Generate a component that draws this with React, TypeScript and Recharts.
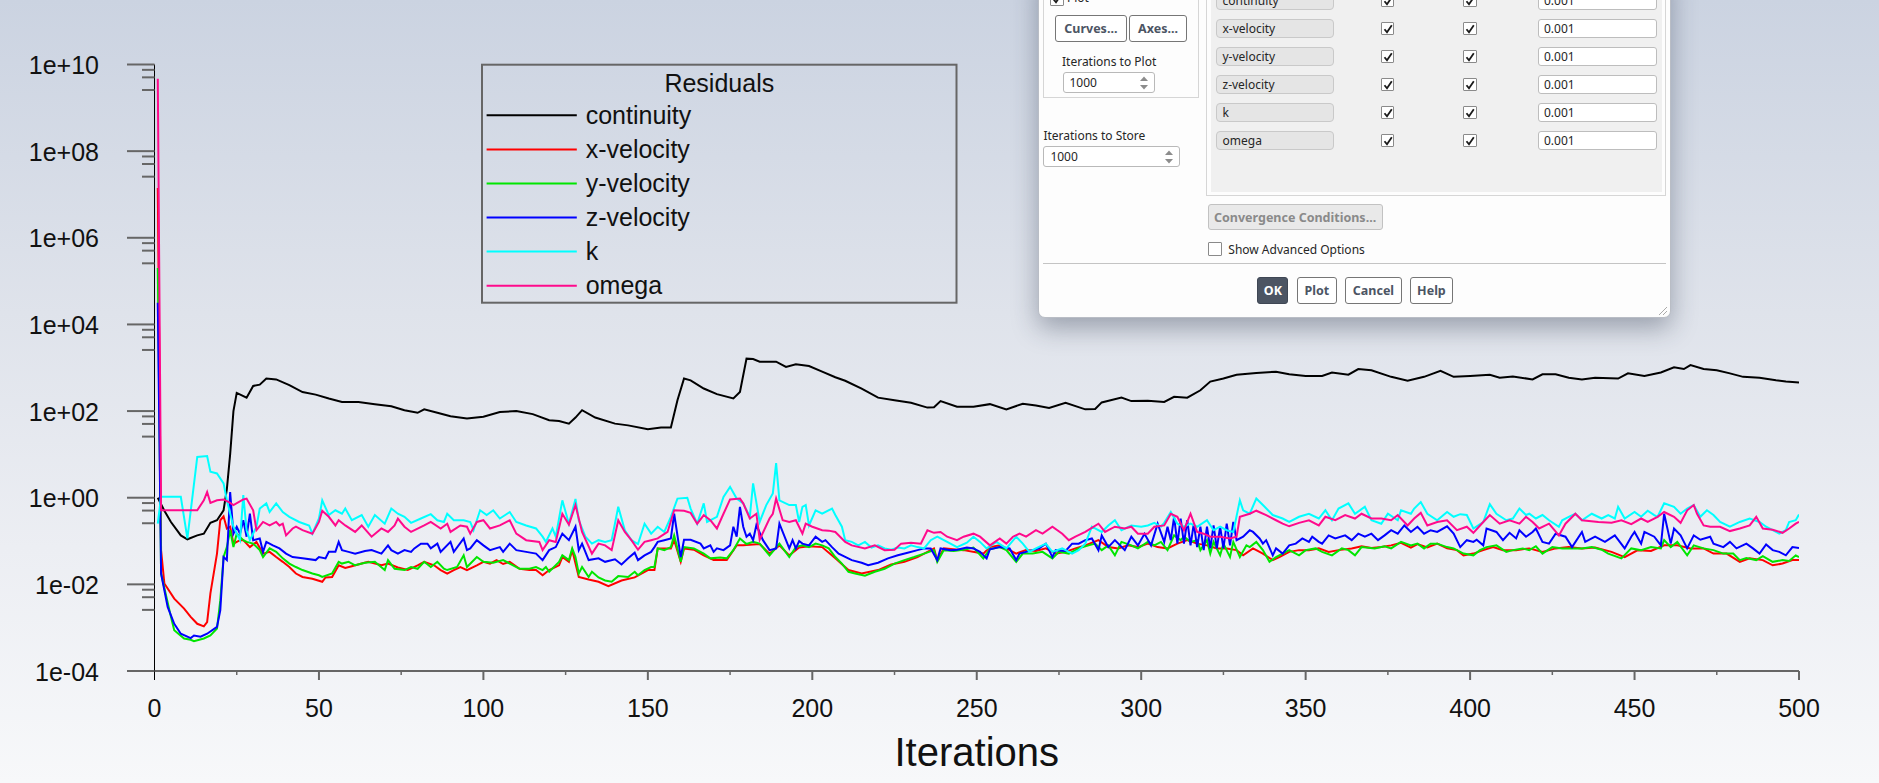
import React from "react";
import { LineChart, Line, XAxis, YAxis } from "recharts";

const WIDTH = 1879;
const HEIGHT = 783;
const FONT = "'Liberation Sans', Arial, sans-serif";
const UI_FONT = "'Noto Sans', 'Open Sans', sans-serif";

// residual history, [iteration, log10(residual)]
const continuity: [number, number][] = [
  [1,0],[3,-0.3],[5,-0.56],[8,-0.87],[10,-0.96],[13,-0.87],[15,-0.83],[17,-0.58],[19,-0.52],[21,-0.29],[22,0.2],[23,1.0],[24,2.0],[25,2.42],[28,2.31],[30,2.58],[32,2.61],[34,2.75],[37,2.73],[41,2.6],[45,2.44],[49,2.38],[53,2.29],[57,2.21],[62,2.21],[67,2.16],[72,2.11],[76,2.02],[80,1.96],[82,2.04],[86,1.96],[90,1.88],[95,1.83],[100,1.87],[105,1.98],[110,2.0],[115,1.93],[120,1.79],[123,1.77],[126,1.71],[128,1.85],[130,2.02],[134,1.85],[140,1.71],[144,1.67],[150,1.58],[154,1.62],[157,1.62],[159,2.25],[161,2.75],[163,2.71],[167,2.52],[171,2.39],[176,2.29],[178,2.44],[180,3.21],[182,3.2],[184,3.14],[189,3.14],[192,3.02],[195,3.08],[199,3.04],[203,2.91],[207,2.78],[210,2.7],[215,2.52],[220,2.31],[225,2.25],[230,2.19],[235,2.08],[237,2.09],[239,2.23],[244,2.1],[249,2.1],[254,2.16],[259,2.04],[264,2.17],[268,2.13],[272,2.07],[277,2.19],[283,2.04],[286,2.05],[288,2.2],[294,2.31],[297,2.23],[302,2.24],[307,2.21],[310,2.33],[314,2.31],[318,2.48],[321,2.68],[325,2.75],[329,2.84],[335,2.88],[341,2.91],[345,2.85],[350,2.81],[355,2.81],[358,2.89],[363,2.84],[366,2.97],[370,2.94],[376,2.79],[381,2.7],[386,2.79],[391,2.93],[395,2.79],[400,2.81],[406,2.84],[409,2.77],[413,2.8],[419,2.73],[422,2.85],[426,2.85],[430,2.77],[434,2.73],[438,2.77],[445,2.75],[448,2.87],[453,2.81],[458,2.89],[462,3.01],[465,2.97],[467,3.06],[471,2.97],[475,2.94],[479,2.87],[483,2.79],[488,2.77],[493,2.71],[496,2.68],[500,2.66],
];

const xVelocity: [number, number][] = [
  [1,7.15],[2,-1.21],[3,-1.98],[6,-2.33],[9,-2.56],[11,-2.75],[13,-2.91],[15,-2.97],[16,-2.87],[17,-2.21],[19,-1.29],[20,-0.52],[21,-0.43],[22,-0.71],[23,-0.67],[24,-1.06],[26,-0.98],[27,-0.98],[29,-1.14],[31,-1.02],[33,-1.29],[35,-1.25],[37,-1.37],[39,-1.48],[41,-1.6],[43,-1.75],[45,-1.83],[48,-1.87],[51,-1.94],[52,-1.84],[54,-1.83],[56,-1.56],[58,-1.62],[60,-1.58],[63,-1.52],[65,-1.48],[69,-1.56],[71,-1.52],[74,-1.61],[77,-1.67],[80,-1.56],[82,-1.48],[85,-1.56],[87,-1.67],[89,-1.75],[91,-1.67],[93,-1.6],[95,-1.67],[98,-1.56],[100,-1.48],[102,-1.52],[104,-1.44],[106,-1.53],[108,-1.48],[111,-1.64],[114,-1.67],[116,-1.67],[118,-1.79],[120,-1.67],[123,-1.56],[124,-1.37],[126,-1.48],[127,-1.21],[129,-1.83],[132,-1.89],[135,-1.94],[138,-2.04],[142,-1.91],[146,-1.84],[150,-1.67],[152,-1.67],[153,-1.17],[157,-1.17],[158,-0.98],[160,-1.48],[161,-1.17],[164,-1.2],[167,-1.33],[170,-1.44],[174,-1.44],[177,-1.1],[179,-1.1],[184,-1.07],[187,-1.29],[190,-1.1],[193,-1.33],[196,-1.15],[199,-1.12],[203,-1.14],[207,-1.4],[211,-1.67],[215,-1.75],[220,-1.67],[224,-1.54],[228,-1.48],[232,-1.37],[237,-1.17],[238,-1.45],[240,-1.17],[246,-1.21],[252,-1.29],[254,-1.14],[257,-1.1],[260,-1.21],[262,-1.29],[265,-1.21],[268,-1.23],[271,-1.17],[274,-1.29],[277,-1.25],[280,-1.17],[283,-1.1],[287,-0.98],[290,-1.14],[293,-1.17],[296,-1.1],[299,-1.14],[302,-1.06],[305,-1.14],[308,-1.17],[311,-1.06],[314,-0.98],[317,-1.06],[320,-1.1],[323,-1.17],[326,-1.17],[329,-1.21],[331,-1.33],[334,-1.17],[337,-1.29],[340,-1.44],[342,-1.37],[345,-1.25],[348,-1.21],[351,-1.21],[354,-1.17],[357,-1.25],[360,-1.21],[364,-1.17],[367,-1.12],[370,-1.16],[373,-1.14],[376,-1.1],[379,-1.04],[382,-1.15],[384,-1.07],[387,-1.15],[390,-1.06],[393,-1.17],[396,-1.21],[398,-1.33],[401,-1.29],[404,-1.21],[407,-1.14],[410,-1.21],[414,-1.21],[418,-1.17],[422,-1.25],[426,-1.17],[430,-1.14],[434,-1.17],[438,-1.15],[443,-1.25],[447,-1.37],[451,-1.21],[455,-1.23],[459,-1.1],[463,-1.1],[467,-1.17],[471,-1.17],[474,-1.29],[478,-1.29],[482,-1.48],[485,-1.4],[489,-1.44],[492,-1.56],[495,-1.52],[498,-1.44],[500,-1.44],
];

const yVelocity: [number, number][] = [
  [1,5.3],[2,-1.75],[5,-2.75],[6,-3.06],[9,-3.25],[11,-3.28],[12,-3.31],[15,-3.25],[17,-3.18],[19,-3.02],[20,-2.37],[21,-1.37],[22,-1.14],[23,-0.75],[24,-1.14],[25,-0.83],[27,-0.98],[28,-1.02],[30,-1.06],[32,-1.21],[33,-1.37],[35,-1.17],[37,-1.25],[39,-1.4],[41,-1.52],[43,-1.6],[45,-1.67],[48,-1.75],[50,-1.79],[51,-1.83],[54,-1.75],[56,-1.48],[57,-1.52],[59,-1.48],[61,-1.56],[64,-1.5],[67,-1.48],[70,-1.67],[71,-1.44],[73,-1.64],[76,-1.67],[78,-1.6],[80,-1.64],[82,-1.48],[84,-1.6],[86,-1.48],[88,-1.64],[89,-1.67],[92,-1.6],[94,-1.33],[95,-1.6],[98,-1.37],[100,-1.48],[103,-1.5],[106,-1.44],[108,-1.52],[111,-1.64],[114,-1.64],[116,-1.6],[118,-1.67],[119,-1.6],[120,-1.71],[123,-1.48],[124,-1.33],[126,-1.44],[127,-1.17],[128,-1.37],[129,-1.75],[130,-1.6],[132,-1.83],[133,-1.71],[135,-1.84],[137,-1.91],[139,-1.94],[141,-1.81],[144,-1.83],[146,-1.71],[147,-1.79],[149,-1.67],[151,-1.6],[152,-1.6],[153,-1.17],[155,-1.21],[157,-1.14],[158,-0.87],[160,-1.48],[161,-1.14],[164,-1.17],[167,-1.29],[169,-1.4],[172,-1.38],[174,-1.4],[176,-1.21],[178,-0.94],[180,-1.07],[182,-1.02],[184,-1.06],[187,-1.33],[190,-1.06],[193,-1.37],[195,-1.14],[197,-1.1],[199,-1.14],[201,-1.06],[203,-1.1],[205,-1.17],[207,-1.37],[209,-1.52],[211,-1.71],[213,-1.75],[216,-1.8],[219,-1.71],[222,-1.64],[225,-1.52],[228,-1.44],[231,-1.37],[234,-1.29],[237,-1.21],[238,-1.48],[240,-1.21],[243,-1.23],[246,-1.2],[249,-1.15],[252,-1.4],[254,-1.19],[257,-1.14],[259,-1.21],[262,-1.48],[264,-1.29],[267,-1.29],[270,-1.25],[273,-1.4],[275,-1.25],[278,-1.29],[281,-1.17],[284,-1.1],[286,-1.06],[288,-1.21],[290,-1.1],[292,-1.33],[294,-1.02],[297,-1.1],[299,-1.17],[302,-1.02],[304,-1.1],[306,-1.02],[308,-1.21],[310,-0.87],[312,-0.98],[313,-0.9],[315,-1.02],[317,-0.98],[318,-1.21],[320,-0.98],[321,-1.29],[322,-1.02],[324,-1.33],[325,-1.06],[327,-1.37],[328,-1.02],[330,-1.37],[332,-1.1],[333,-1.14],[335,-1.02],[337,-1.21],[339,-1.48],[341,-1.37],[343,-1.29],[345,-1.21],[348,-1.33],[350,-1.21],[353,-1.17],[355,-1.25],[358,-1.33],[361,-1.17],[363,-1.21],[365,-1.33],[367,-1.14],[371,-1.17],[374,-1.12],[376,-1.17],[379,-1.02],[382,-1.1],[384,-1.06],[386,-1.17],[388,-1.06],[390,-1.06],[393,-1.14],[395,-1.17],[398,-1.29],[401,-1.33],[403,-1.21],[405,-1.14],[408,-1.1],[411,-1.25],[413,-1.21],[416,-1.17],[418,-1.21],[420,-1.12],[422,-1.29],[425,-1.14],[428,-1.17],[431,-1.17],[434,-1.17],[437,-1.14],[440,-1.2],[442,-1.29],[446,-1.4],[449,-1.17],[452,-1.21],[455,-1.14],[458,-1.17],[459,-0.98],[461,-1.14],[463,-1.02],[466,-1.33],[468,-1.1],[471,-1.17],[474,-1.21],[477,-1.29],[480,-1.29],[482,-1.44],[484,-1.39],[487,-1.44],[489,-1.35],[492,-1.48],[495,-1.44],[497,-1.46],[499,-1.33],[500,-1.37],
];

const zVelocity: [number, number][] = [
  [1,4.5],[2,-1.75],[4,-2.52],[6,-2.91],[8,-3.14],[11,-3.24],[12,-3.18],[14,-3.21],[16,-3.14],[19,-2.98],[20,-2.6],[21,-1.37],[22,-1.44],[23,0.13],[24,-0.83],[25,-0.67],[26,-0.83],[27,-0.52],[28,-0.9],[29,-0.37],[30,-0.98],[32,-0.94],[33,-1.25],[34,-1.02],[36,-1.1],[38,-1.17],[40,-1.29],[42,-1.37],[45,-1.4],[49,-1.44],[50,-1.37],[52,-1.4],[53,-1.25],[55,-1.25],[56,-1.02],[57,-1.21],[59,-1.25],[61,-1.29],[64,-1.23],[66,-1.21],[69,-1.29],[71,-1.1],[72,-1.21],[74,-1.29],[76,-1.21],[78,-1.25],[79,-1.17],[81,-1.06],[83,-1.06],[84,-1.17],[86,-1.06],[87,-1.25],[90,-1.02],[91,-1.25],[94,-0.94],[95,-1.21],[96,-1.17],[98,-0.98],[100,-1.1],[102,-1.21],[105,-1.14],[106,-1.25],[108,-1.06],[110,-1.21],[113,-1.25],[116,-1.29],[118,-1.44],[120,-1.21],[122,-1.14],[124,-0.83],[126,-0.98],[128,-0.67],[129,-1.21],[130,-1.06],[132,-1.44],[135,-1.4],[137,-1.48],[140,-1.42],[142,-1.54],[144,-1.4],[146,-1.27],[147,-1.44],[149,-1.33],[151,-1.25],[152,-1.14],[153,-1.02],[155,-0.98],[157,-0.94],[158,-0.37],[160,-1.37],[161,-0.97],[163,-0.97],[166,-1.06],[167,-1.17],[169,-1.1],[170,-1.25],[171,-1.17],[173,-1.21],[175,-1.1],[176,-0.67],[177,-0.9],[178,-0.21],[179,-0.67],[180,-0.9],[181,-0.83],[182,-0.98],[183,-0.63],[185,-0.98],[187,-1.21],[189,-1.17],[190,-0.6],[192,-0.98],[193,-1.17],[194,-0.98],[195,-1.17],[196,-1.0],[197,-1.06],[199,-1.1],[201,-0.9],[203,-1.02],[204,-0.98],[206,-1.14],[208,-1.29],[212,-1.44],[215,-1.5],[217,-1.56],[220,-1.5],[223,-1.4],[226,-1.33],[229,-1.27],[232,-1.21],[234,-1.17],[236,-1.17],[238,-1.44],[239,-1.17],[242,-1.21],[244,-1.2],[247,-1.15],[249,-1.17],[251,-1.25],[253,-1.4],[254,-1.19],[257,-1.14],[260,-1.17],[262,-1.44],[263,-1.29],[265,-1.25],[267,-1.21],[269,-1.17],[271,-1.06],[273,-1.37],[274,-1.21],[277,-1.23],[279,-1.06],[281,-1.06],[283,-0.98],[285,-0.94],[287,-1.21],[288,-0.87],[290,-1.14],[292,-0.98],[295,-1.21],[297,-0.9],[299,-1.1],[301,-0.83],[303,-1.1],[305,-0.6],[307,-1.02],[308,-0.67],[309,-0.98],[310,-0.44],[311,-1.06],[312,-0.48],[313,-1.06],[314,-0.52],[315,-1.1],[316,-0.6],[317,-1.14],[318,-0.67],[319,-1.21],[320,-0.67],[321,-1.17],[322,-0.64],[323,-1.17],[324,-0.67],[325,-1.17],[326,-0.6],[327,-1.1],[328,-0.56],[329,-0.98],[331,-0.9],[333,-0.75],[334,-0.79],[336,-0.94],[337,-1.06],[338,-0.98],[340,-1.33],[341,-1.17],[343,-1.29],[345,-1.1],[347,-1.06],[349,-0.94],[351,-1.02],[352,-0.9],[354,-1.02],[355,-1.06],[357,-0.87],[359,-0.94],[362,-0.87],[364,-0.98],[366,-0.83],[368,-0.9],[370,-0.83],[372,-0.98],[374,-0.87],[376,-0.75],[378,-0.83],[380,-0.64],[382,-0.79],[384,-0.67],[386,-0.83],[388,-0.75],[390,-0.79],[393,-0.66],[395,-0.83],[397,-1.14],[399,-0.98],[401,-1.02],[402,-0.97],[404,-1.1],[405,-0.71],[408,-0.79],[410,-0.98],[412,-0.81],[414,-0.94],[415,-0.75],[417,-0.9],[419,-0.79],[420,-0.71],[422,-1.02],[424,-1.06],[426,-0.83],[429,-0.9],[431,-1.14],[434,-0.79],[435,-1.02],[438,-0.9],[441,-1.02],[444,-0.87],[447,-1.17],[449,-0.9],[450,-0.79],[452,-1.06],[453,-0.79],[456,-0.9],[458,-1.1],[459,-0.37],[461,-1.06],[462,-0.71],[464,-0.87],[466,-1.17],[468,-0.87],[470,-0.97],[473,-0.9],[474,-1.06],[477,-1.14],[479,-1.02],[481,-1.17],[484,-1.06],[486,-1.17],[488,-1.29],[490,-1.08],[492,-1.21],[494,-1.25],[496,-1.33],[498,-1.14],[500,-1.16],
];

const kResidual: [number, number][] = [
  [1,-0.6],[2,0.02],[8,0.02],[10,-0.94],[13,0.94],[16,0.96],[17,0.6],[19,0.56],[21,0.33],[22,-0.06],[24,-0.67],[26,-0.98],[27,0.06],[28,-0.75],[29,-0.98],[31,-0.67],[32,-0.25],[34,-0.13],[35,-0.33],[37,-0.13],[39,-0.33],[41,-0.44],[44,-0.56],[47,-0.64],[48,-0.83],[50,-0.48],[51,-0.06],[53,-0.4],[55,-0.29],[57,-0.37],[58,-0.25],[60,-0.52],[63,-0.4],[65,-0.67],[67,-0.4],[70,-0.6],[72,-0.25],[74,-0.37],[76,-0.44],[78,-0.58],[81,-0.48],[84,-0.38],[86,-0.52],[88,-0.56],[89,-0.37],[91,-0.52],[94,-0.52],[96,-0.56],[97,-0.75],[99,-0.29],[101,-0.4],[103,-0.29],[105,-0.48],[108,-0.33],[110,-0.56],[113,-0.64],[116,-0.71],[118,-0.9],[119,-1.02],[121,-0.71],[122,-0.9],[124,-0.06],[126,-0.6],[128,-0.03],[129,-0.52],[131,-0.9],[133,-1.06],[135,-0.98],[137,-1.02],[139,-0.98],[141,-0.21],[143,-0.75],[145,-0.98],[147,-1.07],[149,-0.6],[151,-0.83],[153,-0.67],[155,-0.79],[157,-0.44],[159,-0.02],[162,0.0],[163,-0.25],[165,-0.6],[167,-0.13],[168,-0.56],[171,-0.44],[173,0.02],[175,0.25],[177,-0.02],[179,-0.13],[181,-0.44],[182,0.33],[184,-0.56],[186,-0.17],[188,0.1],[189,0.8],[190,-0.06],[193,-0.17],[195,-0.17],[196,-0.56],[197,-0.21],[198,-0.17],[199,-0.64],[201,-0.29],[203,-0.37],[206,-0.25],[207,-0.4],[209,-0.67],[210,-0.98],[212,-1.02],[214,-1.1],[216,-1.02],[218,-1.15],[220,-1.1],[222,-1.17],[224,-1.2],[226,-1.15],[228,-1.17],[230,-1.1],[232,-1.14],[234,-1.17],[236,-0.98],[238,-0.9],[240,-0.98],[242,-1.06],[244,-1.14],[247,-1.04],[249,-0.9],[251,-1.02],[253,-1.17],[256,-1.02],[259,-1.17],[262,-0.9],[264,-1.06],[266,-1.25],[268,-1.17],[271,-1.06],[273,-1.25],[276,-1.17],[279,-1.29],[281,-1.21],[283,-1.06],[285,-0.67],[288,-0.79],[290,-0.64],[292,-0.52],[294,-0.75],[297,-0.64],[300,-0.67],[302,-0.64],[304,-0.58],[306,-0.67],[307,-0.58],[309,-0.33],[311,-0.6],[313,-0.67],[315,-0.6],[317,-0.67],[320,-0.52],[322,-0.75],[324,-0.67],[326,-0.75],[328,-0.79],[330,-0.06],[331,-0.29],[333,-0.37],[335,-0.02],[337,-0.17],[340,-0.4],[343,-0.48],[345,-0.56],[348,-0.44],[351,-0.37],[354,-0.48],[356,-0.29],[358,-0.52],[360,-0.25],[363,-0.13],[365,-0.37],[368,-0.21],[370,-0.52],[373,-0.6],[375,-0.37],[378,-0.52],[379,-0.29],[382,-0.37],[383,-0.25],[385,-0.1],[387,-0.37],[390,-0.52],[393,-0.33],[395,-0.44],[397,-0.38],[399,-0.4],[401,-0.71],[404,-0.56],[406,-0.15],[408,-0.37],[411,-0.52],[413,-0.48],[415,-0.25],[417,-0.4],[418,-0.37],[420,-0.48],[422,-0.4],[424,-0.52],[427,-0.67],[428,-0.52],[430,-0.44],[432,-0.37],[434,-0.52],[437,-0.37],[440,-0.48],[442,-0.4],[444,-0.48],[445,-0.21],[447,-0.48],[450,-0.33],[452,-0.44],[454,-0.3],[456,-0.4],[457,-0.44],[459,-0.13],[462,-0.21],[464,-0.37],[466,-0.25],[468,-0.17],[470,-0.44],[472,-0.29],[474,-0.4],[476,-0.56],[479,-0.67],[482,-0.56],[485,-0.48],[488,-0.56],[490,-0.67],[492,-0.75],[494,-0.83],[496,-0.75],[497,-0.56],[499,-0.52],[500,-0.39],
];

const omega: [number, number][] = [
  [1,9.67],[2,-0.29],[13,-0.29],[15,-0.06],[16,0.13],[17,-0.12],[19,-0.06],[21,-0.04],[23,-0.12],[24,-0.17],[27,-0.04],[28,-0.02],[30,-0.29],[31,-0.75],[33,-0.56],[35,-0.64],[37,-0.56],[38,-0.64],[39,-0.6],[40,-0.87],[42,-0.71],[43,-0.67],[45,-0.75],[48,-0.83],[50,-0.56],[51,-0.3],[53,-0.44],[55,-0.64],[56,-0.52],[58,-0.64],[61,-0.79],[63,-0.64],[66,-0.9],[69,-0.71],[71,-0.79],[73,-0.64],[74,-0.48],[76,-0.67],[78,-0.79],[82,-0.64],[84,-0.56],[87,-0.71],[89,-0.6],[90,-0.79],[93,-0.64],[95,-0.67],[96,-0.83],[98,-0.56],[100,-0.52],[102,-0.71],[105,-0.64],[108,-0.52],[110,-0.83],[113,-0.98],[117,-1.02],[118,-1.21],[120,-0.98],[122,-1.02],[124,-0.37],[126,-0.62],[128,-0.17],[130,-0.79],[133,-1.29],[135,-1.06],[137,-1.1],[139,-1.21],[141,-0.52],[143,-0.79],[145,-0.98],[147,-1.2],[149,-1.02],[151,-0.98],[153,-0.94],[156,-0.79],[158,-0.29],[161,-0.3],[163,-0.35],[165,-0.6],[167,-0.4],[169,-0.52],[171,-0.71],[173,-0.37],[175,-0.04],[178,-0.02],[179,-0.13],[181,-0.48],[183,-0.37],[184,-0.97],[187,-0.48],[188,-0.37],[189,-0.02],[191,-0.52],[193,-0.56],[195,-0.52],[197,-0.83],[198,-0.6],[200,-0.67],[203,-0.75],[205,-0.76],[207,-0.79],[210,-1.02],[212,-1.1],[216,-1.17],[219,-1.1],[222,-1.21],[225,-1.2],[227,-1.06],[230,-1.04],[233,-1.06],[235,-0.75],[237,-0.81],[239,-0.79],[241,-0.9],[244,-0.98],[246,-0.9],[249,-0.83],[251,-0.9],[254,-1.1],[257,-0.94],[259,-1.06],[261,-0.9],[263,-0.83],[265,-0.9],[268,-0.75],[270,-0.83],[273,-0.67],[276,-0.83],[278,-0.98],[280,-0.9],[283,-0.79],[287,-0.6],[289,-0.79],[292,-0.67],[295,-0.71],[297,-0.67],[299,-0.83],[302,-0.83],[304,-0.67],[307,-0.64],[309,-0.37],[311,-0.44],[313,-0.75],[315,-0.37],[317,-0.79],[319,-0.83],[321,-0.9],[324,-0.9],[327,-0.94],[329,-0.9],[330,-0.44],[333,-0.37],[335,-0.3],[338,-0.4],[341,-0.52],[343,-0.6],[345,-0.66],[348,-0.58],[351,-0.52],[354,-0.64],[356,-0.44],[359,-0.52],[362,-0.4],[365,-0.48],[367,-0.37],[370,-0.48],[373,-0.48],[376,-0.52],[378,-0.4],[381,-0.64],[383,-0.48],[385,-0.35],[387,-0.64],[390,-0.56],[393,-0.52],[396,-0.75],[399,-0.67],[401,-0.81],[404,-0.56],[406,-0.4],[409,-0.6],[412,-0.52],[415,-0.6],[417,-0.44],[419,-0.56],[421,-0.71],[424,-0.6],[427,-0.87],[429,-0.6],[432,-0.37],[434,-0.52],[439,-0.56],[443,-0.58],[446,-0.52],[449,-0.61],[452,-0.48],[454,-0.56],[457,-0.44],[459,-0.33],[462,-0.44],[464,-0.58],[466,-0.29],[468,-0.17],[469,-0.37],[471,-0.64],[473,-0.67],[476,-0.67],[479,-0.77],[482,-0.71],[485,-0.64],[487,-0.44],[489,-0.71],[492,-0.74],[495,-0.81],[497,-0.71],[499,-0.6],[500,-0.56],
];

const seriesNames = ["continuity", "x-velocity", "y-velocity", "z-velocity", "k", "omega"];
const seriesKeys = ["cont", "xv", "yv", "zv", "k", "om"];
const seriesColors = ["#000000", "#ff0000", "#00e600", "#0000ff", "#00ffff", "#ff0a8c"];
const allSeries = [continuity, xVelocity, yVelocity, zVelocity, kResidual, omega];

const xTicks = [0, 25, 50, 75, 100, 125, 150, 175, 200, 225, 250, 275, 300, 325, 350, 375, 400, 425, 450, 475, 500];
const yMajorTicks = [-4, -2, 0, 2, 4, 6, 8, 10];
const yTickLabels = ["1e-04", "1e-02", "1e+00", "1e+02", "1e+04", "1e+06", "1e+08", "1e+10"];
// fluent puts 3 linear minor ticks between the 2-decade majors
const yMinorOffsets = [1.4108, 1.7033, 1.8765];

const yTicks = [
  ...yMajorTicks,
  ...yMajorTicks.slice(0, -1).flatMap((a) => yMinorOffsets.map((o) => a + o)),
].sort((a, b) => a - b);

// merge series into one table keyed by iteration
const rows = new Map<number, Record<string, number>>();
allSeries.forEach((s, i) => {
  s.forEach(([it, v]) => {
    const row = rows.get(it) ?? { it };
    row[seriesKeys[i]] = v;
    rows.set(it, row);
  });
});
const table = [...rows.values()].sort((a, b) => a.it - b.it);

const XTick = (props: any) => {
  const { x, y, payload } = props;
  const v = payload.value;
  const major = v % 50 === 0;
  return (
    <g>
      <line
        x1={x}
        x2={x}
        y1={y}
        y2={y + (major ? 9 : 4)}
        stroke={v === 0 ? "#000" : "#666"}
        strokeWidth={v === 0 ? 1 : major ? 2 : 1.5}
      />
      {major && (
        <text x={x} y={y + 46} textAnchor="middle" fontSize={25} fontFamily={FONT} fill="#111">
          {v}
        </text>
      )}
    </g>
  );
};

const YTick = (props: any) => {
  const { x, y, payload } = props;
  const idx = yMajorTicks.indexOf(payload.value);
  const major = idx >= 0;
  return (
    <g>
      <line x1={x - (major ? 27.5 : 12.5)} x2={x} y1={y} y2={y} stroke="#666" strokeWidth={2} />
      {major && (
        <text x={x - 55.5} y={y + 9.5} textAnchor="end" fontSize={25} fontFamily={FONT} fill="#111">
          {yTickLabels[idx]}
        </text>
      )}
    </g>
  );
};

function ResidualLegend() {
  const top = 115.3;
  const step = 34.08;
  return (
    <svg width={WIDTH} height={HEIGHT} style={{ position: "absolute", left: 0, top: 0, pointerEvents: "none" }}>
      <rect x={482} y={64.7} width={474.5} height={238} fill="none" stroke="#666" strokeWidth={2} />
      <text x={719.3} y={91.7} textAnchor="middle" fontSize={25} fontFamily={FONT} fill="#111">
        Residuals
      </text>
      {seriesNames.map((name, i) => (
        <g key={name}>
          <line x1={486.6} x2={576.8} y1={top + step * i} y2={top + step * i} stroke={seriesColors[i]} strokeWidth={2} />
          <text x={585.7} y={top + step * i + 8.7} fontSize={25} fontFamily={FONT} fill="#111">
            {name}
          </text>
        </g>
      ))}
    </svg>
  );
}

// ---- the Fluent "Residual Monitors" dialog that sits over the plot ----
const DLG = { left: 1037.5, top: -30, width: 633, height: 347.7 };
const at = (l: number, t: number, w: number, h: number, extra: React.CSSProperties = {}): React.CSSProperties => ({
  position: "absolute",
  left: l - DLG.left,
  top: t - DLG.top,
  width: w,
  height: h,
  boxSizing: "border-box",
  ...extra,
});

const rowNames = ["continuity", "x-velocity", "y-velocity", "z-velocity", "k", "omega"];
const rowCriteria = ["0.001", "0.001", "0.001", "0.001", "0.001", "0.001"];

function CheckBox({ l, t, checked }: { l: number; t: number; checked: boolean }) {
  return (
    <div style={at(l, t, 13.5, 13.5, { border: "1px solid #8a8a8a", background: "#fff", borderRadius: 1 })}>
      {checked && (
        <svg width={12} height={12} style={{ position: "absolute", left: 0, top: 0 }}>
          <path d="M2.5 6.2 L5 9.3 L9.8 2.2" fill="none" stroke="#1a1a1a" strokeWidth={1.8} />
        </svg>
      )}
    </div>
  );
}

function Button({ l, t, w, h, label, dark, disabled }: any) {
  return (
    <div
      style={at(l, t, w, h, {
        border: `1px solid ${dark ? "#3f4754" : disabled ? "#c2c2c2" : "#767676"}`,
        borderRadius: 3,
        background: dark ? "#4c5563" : disabled ? "#e9e9e9" : "#fff",
        color: dark ? "#fff" : disabled ? "#8a8a8a" : "#4c5564",
        fontWeight: 700,
        fontSize: 12.5,
        display: "flex",
        alignItems: "center",
        justifyContent: "center",
        whiteSpace: "nowrap",
      })}
    >
      {label}
    </div>
  );
}

function Spinner({ l, t, w, h, value }: any) {
  return (
    <div style={at(l, t, w, h, { border: "1px solid #b9b9b9", borderRadius: 3, background: "#fff" })}>
      <span style={{ position: "absolute", left: 6, top: 1.5, fontSize: 12 }}>{value}</span>
      <svg width={10} height={16} style={{ position: "absolute", right: 5, top: 2 }}>
        <path d="M1 6 L5 1.5 L9 6 Z" fill="#8c8c8c" />
        <path d="M1 10 L5 14.5 L9 10 Z" fill="#8c8c8c" />
      </svg>
    </div>
  );
}

function MonitorDialog() {
  return (
    <div
      style={{
        position: "absolute",
        left: DLG.left,
        top: DLG.top,
        width: DLG.width,
        height: DLG.height,
        background: "#fdfdfd",
        borderRadius: 7,
        border: "1px solid #b9bdc5",
        boxShadow: "0 10px 26px rgba(40,50,70,0.38)",
        fontFamily: UI_FONT,
        fontSize: 12,
        color: "#262626",
        boxSizing: "border-box",
        overflow: "hidden",
      }}
    >
      <div style={at(1042, -20, 156, 117, { border: "1px solid #d6d6d6" })} />
      <CheckBox l={1049} t={-9} checked />
      <div style={at(1066, -12, 40, 16)}>Plot</div>
      <Button l={1054} t={14.3} w={71.7} h={26.4} label="Curves..." />
      <Button l={1128} t={14.3} w={58} h={26.4} label="Axes..." />
      <div style={at(1061, 51.5, 120, 18)}>Iterations to Plot</div>
      <Spinner l={1061.5} t={70.7} w={92.5} h={21.6} value="1000" />
      <div style={at(1042.4, 125.5, 130, 18)}>Iterations to Store</div>
      <Spinner l={1042.4} t={144.7} w={136.6} h={21.3} value="1000" />

      <div style={at(1205.4, -20, 459.6, 215, { border: "1px solid #d6d6d6" })} />
      <div style={at(1210, -20, 450.6, 210.7, { background: "#f0f0f0" })} />
      {rowNames.map((name, i) => {
        const cy = -0.7 + 28 * i;
        return (
          <React.Fragment key={name}>
            <div
              style={at(1214.5, cy - 9.5, 118.5, 19, {
                background: "#e5e5e5",
                border: "1px solid #c9c9c9",
                borderRadius: 4,
                paddingLeft: 6,
                lineHeight: "17px",
              })}
            >
              {name}
            </div>
            <CheckBox l={1379.5} t={cy - 6.7} checked />
            <CheckBox l={1462.4} t={cy - 6.7} checked />
            <div
              style={at(1537, cy - 9.5, 119.4, 19, {
                background: "#fff",
                border: "1px solid #bdbdbd",
                borderRadius: 3,
                paddingLeft: 5,
                lineHeight: "17px",
              })}
            >
              {rowCriteria[i]}
            </div>
          </React.Fragment>
        );
      })}

      <Button l={1206.6} t={203.3} w={175} h={26} label="Convergence Conditions..." disabled />
      <CheckBox l={1207} t={241} checked={false} />
      <div style={at(1227.3, 239.5, 200, 18)}>Show Advanced Options</div>
      <div style={at(1042, 262, 623, 1, { background: "#c4c4c4" })} />

      <Button l={1256.4} t={276.3} w={31} h={26.4} label="OK" dark />
      <Button l={1296} t={276.3} w={39.6} h={26.4} label="Plot" />
      <Button l={1344.3} t={276.3} w={56.3} h={26.4} label="Cancel" />
      <Button l={1409.3} t={276.3} w={42.3} h={26.4} label="Help" />

      <svg width={12} height={12} style={at(1655, 303, 12, 12)}>
        <path d="M11 3 L3 11 M11 7 L7 11" stroke="#aaa" strokeWidth={1} />
      </svg>
    </div>
  );
}

export default function App() {
  return (
    <div
      style={{
        position: "fixed",
        left: 0,
        top: 0,
        width: WIDTH,
        height: HEIGHT,
        overflow: "hidden",
        background: "linear-gradient(180deg, #cbd3e1 0%, #dfe3eb 40%, #eceef3 70%, #f7f8fa 100%)",
        fontFamily: FONT,
      }}
    >
      <LineChart width={WIDTH} height={HEIGHT} data={table} margin={{ top: 64.5, right: 80, bottom: 0, left: 0 }}>
        <XAxis
          dataKey="it"
          type="number"
          domain={[0, 500]}
          ticks={xTicks}
          interval={0}
          height={112}
          tickSize={0}
          tickMargin={0}
          tickLine={false}
          tick={XTick}
          axisLine={{ stroke: "#666", strokeWidth: 2 }}
          allowDataOverflow
          label={{ value: "Iterations", position: "insideBottom", offset: 17, fontSize: 40, fill: "#111", fontFamily: FONT }}
        />
        <YAxis
          type="number"
          domain={[-4, 10]}
          ticks={yTicks}
          interval={0}
          width={154.5}
          tickSize={0}
          tickMargin={0}
          tickLine={false}
          tick={YTick}
          axisLine={{ stroke: "#000", strokeWidth: 1 }}
          allowDataOverflow
        />
        {seriesKeys.map((key, i) => (
          <Line
            key={key}
            dataKey={key}
            name={seriesNames[i]}
            type="linear"
            stroke={seriesColors[i]}
            strokeWidth={2}
            dot={false}
            activeDot={false}
            connectNulls
            isAnimationActive={false}
          />
        ))}
      </LineChart>
      <ResidualLegend />
      <MonitorDialog />
    </div>
  );
}
